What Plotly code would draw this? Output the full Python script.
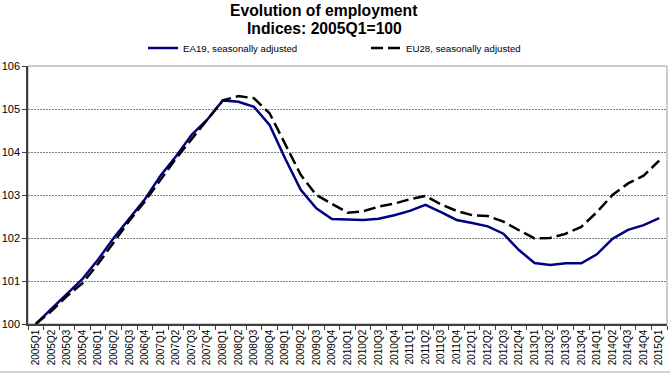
import plotly.graph_objects as go

quarters = [f"{y}Q{q}" for y in range(2005, 2015) for q in range(1, 5)] + ["2015Q1"]

ea19 = [100.0, 100.35, 100.7, 101.05,
        101.5, 102.0, 102.45, 102.9,
        103.45, 103.9, 104.4, 104.75,
        105.2, 105.17, 105.05, 104.63,
        103.85, 103.12, 102.69, 102.44,
        102.43, 102.42, 102.45, 102.53,
        102.63, 102.77, 102.6, 102.42,
        102.35, 102.27, 102.1, 101.72,
        101.42, 101.37, 101.41, 101.41,
        101.62, 101.98, 102.19, 102.3,
        102.46]

eu28 = [100.0, 100.3, 100.65, 100.95,
        101.4, 101.9, 102.4, 102.85,
        103.35, 103.85, 104.3, 104.75,
        105.2, 105.3, 105.25, 104.9,
        104.2, 103.47, 103.0, 102.79,
        102.59, 102.62, 102.73, 102.8,
        102.9, 102.98, 102.78, 102.63,
        102.53, 102.51, 102.38, 102.18,
        101.99, 102.0, 102.1, 102.26,
        102.6, 103.0, 103.27, 103.45,
        103.8]

yticks = [100, 101, 102, 103, 104, 105, 106]

FONT = "Arial, Liberation Sans, sans-serif"

fig = go.Figure()
fig.add_trace(go.Scatter(x=quarters, y=ea19, mode="lines", name="EA19, seasonally adjusted",
                         line=dict(color="#000080", width=2.5)))
fig.add_trace(go.Scatter(x=quarters, y=eu28, mode="lines", name="EU28, seasonally adjusted",
                         line=dict(color="#000000", width=2.5, dash="12px,5px")))

fig.update_layout(
    width=671, height=374, autosize=False,
    margin=dict(l=28, r=4, t=66, b=50, pad=0),
    paper_bgcolor="white", plot_bgcolor="white",
    font=dict(family=FONT, color="#000000"),
    showlegend=True,
    legend=dict(orientation="h", x=0.18, xanchor="left", y=1.07, yanchor="middle",
                font=dict(size=9.7, family=FONT), entrywidth=178, entrywidthmode="pixels",
                bgcolor="rgba(0,0,0,0)", borderwidth=0),
    annotations=[
        dict(text="<b>Evolution of employment</b>", x=(324 - 28) / 639, xref="paper",
             y=1 + 56 / 258, yref="paper", xanchor="center", yanchor="middle",
             showarrow=False, font=dict(size=15.7, family=FONT, color="#000000")),
        dict(text="<b>Indices: 2005Q1=100</b>", x=(324 - 28) / 639, xref="paper",
             y=1 + 37 / 258, yref="paper", xanchor="center", yanchor="middle",
             showarrow=False, font=dict(size=15.7, family=FONT, color="#000000")),
    ],
    xaxis=dict(type="category", categoryorder="array", categoryarray=quarters,
               range=[-0.5, len(quarters) - 0.5],
               tickangle=-90, tickfont=dict(size=10, family=FONT),
               ticks="outside", ticklen=4, tickcolor="#404040", tickson="boundaries",
               showgrid=False, showline=True, linecolor="#404040", linewidth=1.5,
               zeroline=False, automargin=False),
    yaxis=dict(range=[100, 106], tickvals=yticks, ticktext=[str(v) for v in yticks],
               tickfont=dict(size=11, family=FONT),
               ticks="outside", ticklen=4, tickcolor="#404040",
               showgrid=True, gridcolor="#808080", gridwidth=1, griddash="2px,1px",
               showline=True, linecolor="#404040", linewidth=1.5,
               zeroline=False, automargin=False),
    shapes=[
        dict(type="rect", xref="paper", yref="paper", x0=0, x1=1, y0=0, y1=1,
             line=dict(color="#9a9a9a", width=1), layer="below"),
        dict(type="line", xref="paper", yref="paper",
             x0=-28 / 639, x1=1 + 3 / 639, y0=-48 / 258, y1=-48 / 258,
             line=dict(color="#a0a0a0", width=1)),
    ],
)

fig.write_html("out.html", config={"displayModeBar": False},
               post_script="document.body.style.margin='0px';")
